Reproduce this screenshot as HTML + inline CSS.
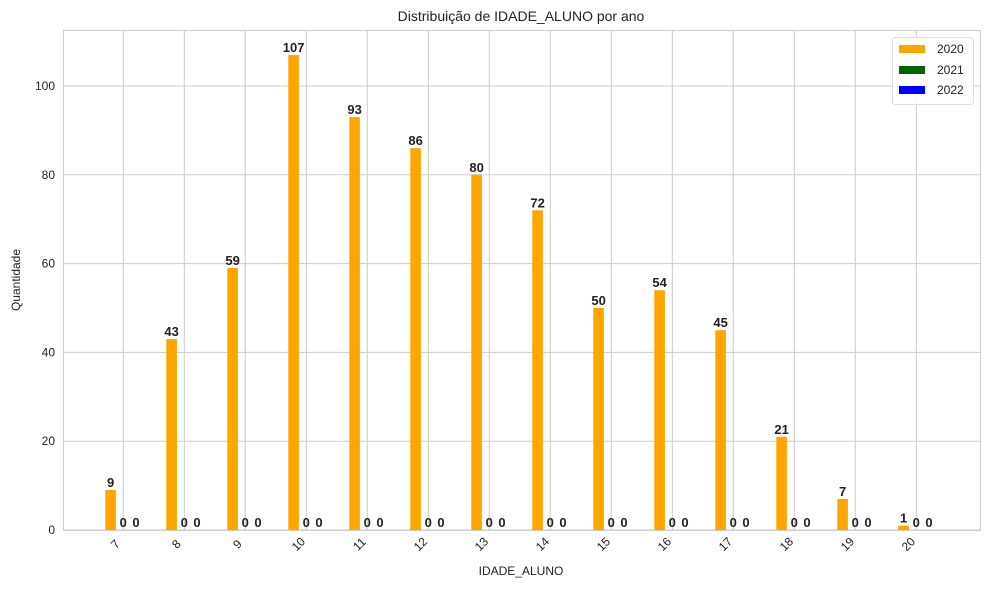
<!DOCTYPE html>
<html><head><meta charset="utf-8"><style>
body{margin:0;background:#fff;font-family:"Liberation Sans","DejaVu Sans",sans-serif}
</style></head><body>
<svg id="c" width="989" height="590" xmlns="http://www.w3.org/2000/svg" font-family="Liberation Sans, DejaVu Sans, sans-serif">
<rect x="0" y="0" width="989" height="590" fill="#fff"/>
<g id="grid"></g><g id="bars"></g><g id="labels"></g><g id="ticks"></g>
<rect x="63.5" y="30.5" width="917" height="500" fill="none" stroke="#ccc" stroke-width="1"/>
<text x="521" y="21" text-anchor="middle" font-size="14" fill="#222">Distribuição de IDADE_ALUNO por ano</text>
<text x="521" y="575" text-anchor="middle" font-size="12" fill="#222">IDADE_ALUNO</text>
<text x="20" y="280" text-anchor="middle" font-size="12" fill="#222" transform="rotate(-90 20 280)">Quantidade</text>
<g>
<rect x="892.5" y="37.5" width="81" height="67" rx="3" fill="#fff" fill-opacity="0.85" stroke="#ddd"/>
<rect x="899" y="45" width="26" height="8" fill="orange"/>
<text x="937" y="53" font-size="12" fill="#222">2020</text>
<rect x="899" y="66" width="26" height="8" fill="darkgreen"/>
<text x="937" y="74" font-size="12" fill="#222">2021</text>
<rect x="899" y="86" width="26" height="8" fill="blue"/>
<text x="937" y="94" font-size="12" fill="#222">2022</text>
</g>
</svg>
<script>
const categories=[7,8,9,10,11,12,13,14,15,16,17,18,19,20];
const s2020=[9,43,59,107,93,86,80,72,50,54,45,21,7,1];
const s2021=[0,0,0,0,0,0,0,0,0,0,0,0,0,0];
const s2022=[0,0,0,0,0,0,0,0,0,0,0,0,0,0];
const yTicks=[0,20,40,60,80,100];
const NS="http://www.w3.org/2000/svg";
const x=i=>123.3+i*61;
const y=v=>530-v*4.44;
function mk(t,a,p){const e=document.createElementNS(NS,t);for(const k in a)e.setAttribute(k,a[k]);document.getElementById(p).appendChild(e);return e;}
yTicks.forEach(v=>{
  const l=mk('line',{x1:63,x2:980,y1:y(v),y2:y(v),stroke:'#ccc'},'grid');
  
  
  const t=mk('text',{x:55,y:y(v)+4,'text-anchor':'end','font-size':12,fill:'#222'},'ticks');
  t.textContent=v;
  
  
});
categories.forEach((c,i)=>{
  const l=mk('line',{x1:x(i),x2:x(i),y1:30,y2:530,stroke:'#ccc'},'grid');
  
  
  const tx=x(i)-5,ty=547;
  const t=mk('text',{x:tx,y:ty,'text-anchor':'middle','font-size':12,fill:'#222',transform:`rotate(-45 ${tx} ${ty})`},'ticks');
  t.textContent=c;
  
  
  [[s2020,'orange',-12.7],[s2021,'darkgreen',0],[s2022,'blue',12.7]].forEach(([s,col,off],k)=>{
    const v=s[i],cx=x(i)+off;
    const r=mk('rect',{x:cx-5.3,y:y(v),width:10.6,height:530-y(v),fill:col},'bars');
    
    
    const lb=mk('text',{x:cx,y:y(v)-3,'text-anchor':'middle','font-size':13,'font-weight':'bold',fill:'#222'},'labels');
    lb.textContent=v;
    
    
  });
});
</script>
</body></html>
